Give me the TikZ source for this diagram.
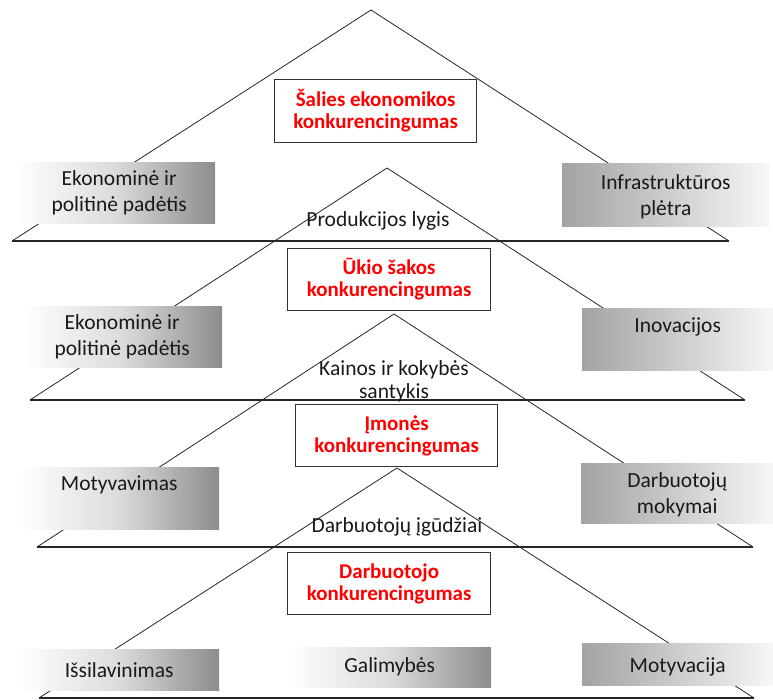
\documentclass[tikz,border=0pt]{standalone}
\usepackage{fontspec}
\setmainfont{Carlito}
\begin{document}
\begin{tikzpicture}[x=1pt,y=-1pt,
  tri/.style={line width=0.8pt, black!85},
  base/.style={line width=1.3pt, black!85},
  grayL/.style={shade, left color=white, right color=black!45, middle color=black!14, draw=none, inner sep=0pt, anchor=north west},
  grayR/.style={shade, left color=black!36, right color=black!3, middle color=black!20, draw=none, inner sep=0pt, anchor=north west},
  redbox/.style={draw=black!80, line width=1.2pt, fill=white, inner sep=0pt, anchor=north west},
  redtxt/.style={text=red, font=\fontsize{21}{22}\selectfont\bfseries, align=center, inner sep=0pt},
  txt/.style={text=black!90, font=\fontsize{21.5}{26}\selectfont, align=center, inner sep=0pt}
]
\useasboundingbox (0,0) rectangle (773,700);

% triangle corners
\coordinate (t1a) at (371,10);  \coordinate (t1l) at (12,241);  \coordinate (t1r) at (729,241);
\coordinate (t2a) at (387,168); \coordinate (t2l) at (30,400);  \coordinate (t2r) at (745,400);
\coordinate (t3a) at (394,314); \coordinate (t3l) at (37,547);  \coordinate (t3r) at (753,547);
\coordinate (t4a) at (397,468); \coordinate (t4l) at (39,698);  \coordinate (t4r) at (754,698);

\foreach \t in {t1,t2,t3,t4}{
  \draw[tri] (\t l) -- (\t a) -- (\t r);
  \draw[base] (\t l) -- (\t r);
}

% red boxes
\node[redbox, minimum width=202pt, minimum height=63pt] (r1) at (274,79) {};
\node[redtxt] (r1t) at (r1.center) {Šalies ekonomikos\\konkurencingumas};
\node[redbox, minimum width=203pt, minimum height=62pt] (r2) at (287,248) {};
\node[redtxt] (r2t) at (r2.center) {Ūkio šakos\\konkurencingumas};
\node[redbox, minimum width=202pt, minimum height=62pt] (r3) at (295,404) {};
\node[redtxt] (r3t) at (r3.center) {Įmonės\\konkurencingumas};
\node[redbox, minimum width=203pt, minimum height=62pt] (r4) at (287,552) {};
\node[redtxt] (r4t) at (r4.center) {Darbuotojo\\konkurencingumas};

% gray boxes
\node[grayL, minimum width=200pt, minimum height=61pt] (g1l) at (15,162) {};
\node[txt] (g1lt) at ([xshift=4pt]g1l.center) {Ekonominė ir\\politinė padėtis};
\node[grayR, minimum width=207pt, minimum height=63pt] (g1r) at (562,163) {};
\node[txt] (g1rt) at ([yshift=-2pt]g1r.center) {Infrastruktūros\\plėtra};

\node[grayL, minimum width=200pt, minimum height=61pt] (g2l) at (22,306) {};
\node[txt] (g2lt) at (g2l.center) {Ekonominė ir\\politinė padėtis};
\node[grayR, minimum width=191pt, minimum height=62pt] (g2r) at (582,308) {};
\node[txt] (g2rt) at ([yshift=-19pt]g2r.north) {Inovacijos};

\node[grayL, minimum width=200pt, minimum height=62pt] (g3l) at (19,467) {};
\node[txt] (g3lt) at ([yshift=-18pt]g3l.north) {Motyvavimas};
\node[grayR, minimum width=192pt, minimum height=60pt] (g3r) at (581,463) {};
\node[txt] (g3rt) at ([yshift=-2pt]g3r.center) {Darbuotojų\\mokymai};

\node[grayL, minimum width=200pt, minimum height=41pt] (g4l) at (19,649) {};
\node[txt] (g4lt) at (g4l.center) {Išsilavinimas};
\node[grayL, minimum width=203pt, minimum height=40pt] (g4m) at (288,647) {};
\node[txt] (g4mt) at (g4m.center) {Galimybės};
\node[grayR, minimum width=191pt, minimum height=42pt] (g4r) at (582,643) {};
\node[txt] (g4rt) at ([yshift=-3pt]g4r.center) {Motyvacija};

% level labels
\node[txt] (l1) at (378,221) {Produkcijos lygis};
\node[txt] (l2) at (394,370) {Kainos ir kokybės};
\node[txt] (l2b) at (394,393) {santykis};
\node[txt] (l3) at (397,527) {Darbuotojų įgūdžiai};
\end{tikzpicture}
\end{document}
